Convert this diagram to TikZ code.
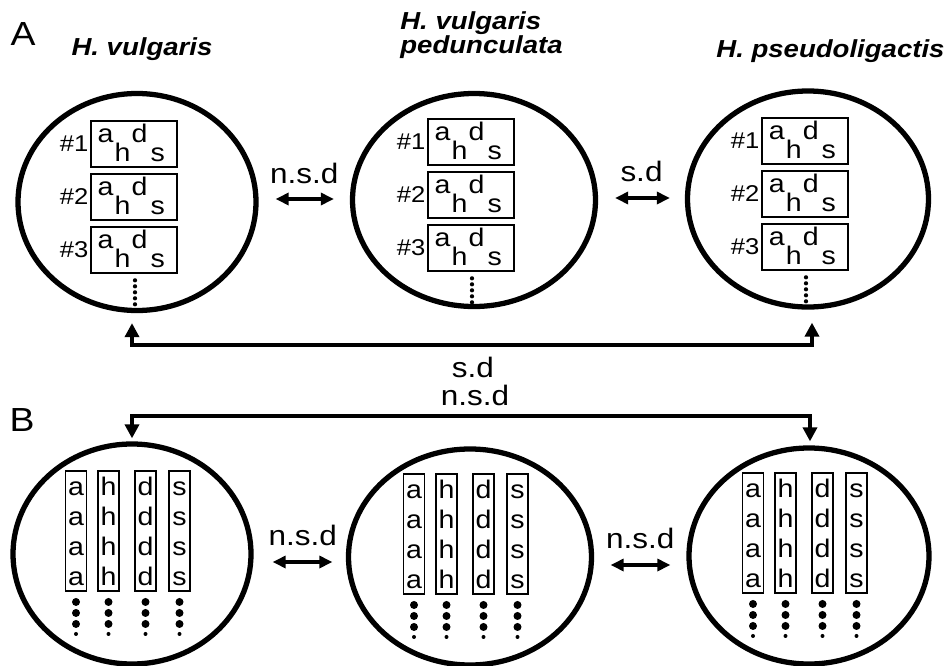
\documentclass[tikz,border=0pt]{standalone}
\usepackage{fontspec}
\setmainfont{Liberation Sans}[FakeStretch=1.12]
\usetikzlibrary{calc,shapes.geometric,arrows.meta}

\begin{document}
\begin{tikzpicture}[x=0.2mm,y=-0.2mm,
  cell/.style={ellipse,draw,line width=3pt,inner sep=0pt},
  rec/.style={draw,rectangle,line width=1.5pt,minimum width=17.2mm,minimum height=9.2mm,inner sep=0pt},
  col/.style={draw,rectangle,line width=1.1pt,minimum width=4.2mm,minimum height=24mm,inner sep=0pt},
  glyph/.style={anchor=base,inner sep=0pt,font=\fontsize{14.5}{15}\selectfont},
  num/.style={anchor=east,inner sep=0.5pt,font=\fontsize{13}{14}\selectfont},
  spc/.style={inner sep=0pt,font=\fontsize{14}{13.7}\selectfont\bfseries\itshape},
  lab/.style={inner sep=0pt,font=\fontsize{16}{18}\selectfont},
  pan/.style={inner sep=0pt,font=\fontsize{19}{20}\selectfont},
  dbl/.style={{Triangle[length=2.6mm,width=2.4mm]}-{Triangle[length=2.6mm,width=2.4mm]},line width=1.8pt},
  brk/.style={{Triangle[length=2.8mm,width=2.8mm]}-{Triangle[length=2.8mm,width=2.8mm]},line width=2.2pt}]

\useasboundingbox (0,0) rectangle (949,666);

% panel A
\node[pan] (pA) at (23,34) {A};
\node[cell,minimum width=47.6mm,minimum height=43.4mm] (ea1) at (137,202) {};
\node[cell,minimum width=48.6mm,minimum height=42.6mm] (ea2) at (474,200) {};
\node[cell,minimum width=48.2mm,minimum height=43.2mm] (ea3) at (808,199) {};

\node[spc,anchor=base] at ($(ea1.north)+(5,-35)$) {H. vulgaris};
\node[spc,anchor=north west,align=left] at ($(ea2.north)+(-74,-79.5)$) {H. vulgaris\\pedunculata};
\node[spc,anchor=base west] at ($(ea3.north)+(-92,-31)$) {H. pseudoligactis};

\foreach \e in {ea1,ea2,ea3}{
  \foreach \k in {1,2,3}{
    \node[rec] (\e-\k) at ($(\e)+(-3,{-58+53*(\k-1)})$) {};
    \node[num] at (\e-\k.west) {\#\k};
    \node[glyph] at ($(\e-\k.north west)+(16,23)$) {a};
    \node[glyph] at ($(\e-\k.north west)+(33,42)$) {h};
    \node[glyph] at ($(\e-\k.north west)+(50,23)$) {d};
    \node[glyph] at ($(\e-\k.north west)+(68,42)$) {s};
  }
  \foreach \d in {0,...,4}
    \fill ($(\e-3.south)+(1,6+6*\d)$) circle (0.42mm);
}

\draw[dbl] ($(ea1.east)+(17,-3)$) -- ($(ea2.west)+(-16,-1)$);
\node[lab] at ($(ea1.east)!0.5!(ea2.west)+(0,-28)$) {n.s.d};
\draw[dbl] ($(ea2.east)+(17,-2)$) -- ($(ea3.west)+(-15,-1)$);
\node[lab] at ($(ea2.east)!0.5!(ea3.west)+(0,-28)$) {s.d};

\draw[brk] ($(ea1.south)+(-5,10)$) |- ($(ea3.south)+(4,35)$) -- ($(ea3.south)+(4,13)$);
\node[lab] at ($(ea2.south)+(-1,58)$) {s.d};

% panel B
\node[pan] (pB) at (22,420) {B};
\node[cell,minimum width=47.6mm,minimum height=44mm] (eb1) at (132,554) {};
\node[cell,minimum width=48.6mm,minimum height=43.2mm] (eb2) at (470,557) {};
\node[cell,minimum width=48mm,minimum height=43.2mm] (eb3) at (809,556) {};

\foreach \e in {eb1,eb2,eb3}{
  \foreach \ch/\dx in {a/-56,h/-23.5,d/13.5,s/47.5}{
    \node[col] (\e\ch) at ($(\e)+(\dx,-23)$) {};
    \foreach \rw in {0,...,3}
      \node[glyph] at ($(\e\ch.north)+(0,25+30*\rw)$) {\ch};
    \foreach \rw in {0,1,2}
      \fill ($(\e\ch.south)+(0,10+11*\rw)$) circle (0.8mm);
    \fill ($(\e\ch.south)+(0,42)$) circle (0.4mm);
  }
}

\draw[brk] ($(eb1.north)+(0,-3)$) |- ($(eb3.north)+(1,-29)$) -- ($(eb3.north)+(1,-4)$);
\node[lab] at ($(eb2.north)+(5,-51)$) {n.s.d};

\draw[dbl] ($(eb1.east)+(19,8)$) -- ($(eb2.west)+(-13.5,5)$);
\node[lab] at ($(eb1.east)!0.5!(eb2.west)+(3,-20)$) {n.s.d};
\draw[dbl] ($(eb2.east)+(16.5,8)$) -- ($(eb3.west)+(-16,9)$);
\node[lab] at ($(eb2.east)!0.5!(eb3.west)+(0,-18)$) {n.s.d};

\end{tikzpicture}
\end{document}
